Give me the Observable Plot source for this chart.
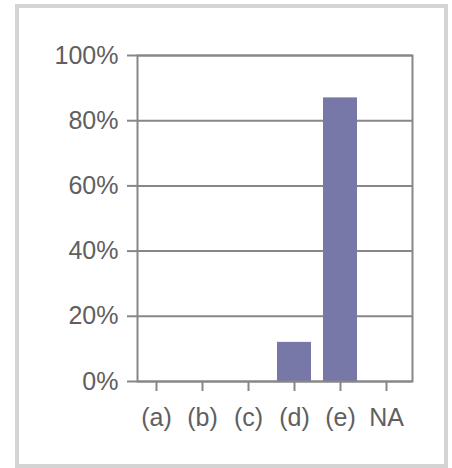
<!DOCTYPE html>
<html>
<head>
<meta charset="utf-8">
<script src="https://cdn.jsdelivr.net/npm/d3@7"></script>
<script src="https://cdn.jsdelivr.net/npm/@observablehq/plot@0.6"></script>
<style>
  html, body { margin: 0; padding: 0; background: #fff; }
  #wrap { position: relative; width: 452px; height: 468px; overflow: hidden; }
  #border { position: absolute; left: 15px; top: 4px; width: 425px; height: 456px; border: 4px solid #d4d4d4; box-sizing: content-box; pointer-events: none; }
  #chart { position: absolute; left: 0; top: 0; }
</style>
</head>
<body>
<div id="wrap"><div id="chart"></div><div id="border"></div></div>
<script>
const categories = ["(a)", "(b)", "(c)", "(d)", "(e)", "NA"];
const values = [0, 0, 0, 12, 87, 0];
const yTicks = [0, 20, 40, 60, 80, 100];

const data = categories.map((c, i) => ({category: c, value: values[i]}));

const chart = Plot.plot({
  width: 452,
  height: 468,
  marginLeft: 137,
  marginRight: 40,
  marginTop: 55,
  marginBottom: 87,
  style: {fontFamily: "'Liberation Sans', Arial, sans-serif", fontSize: "25px", background: "#fff", color: "#606060"},
  x: {domain: categories, range: [133, 409], paddingInner: 0.27, paddingOuter: 0.135, label: null},
  y: {domain: [0, 100], label: null},
  marks: [
    Plot.ruleY(yTicks, {stroke: "#878787", strokeWidth: 2}),
    Plot.barY(data, {x: "category", y: "value", fill: "#7878a8"}),
    Plot.frame({stroke: "#878787", strokeWidth: 2}),
    Plot.axisY(yTicks, {tickSize: 10, tickPadding: 9, stroke: "#878787", strokeWidth: 2, fill: "#606060", tickFormat: d => d + "%", label: null}),
    Plot.axisX({tickSize: 10, tickPadding: 17, stroke: "#878787", strokeWidth: 2, fill: "#606060", label: null})
  ]
});
document.getElementById("chart").appendChild(chart);
</script>
</body>
</html>
